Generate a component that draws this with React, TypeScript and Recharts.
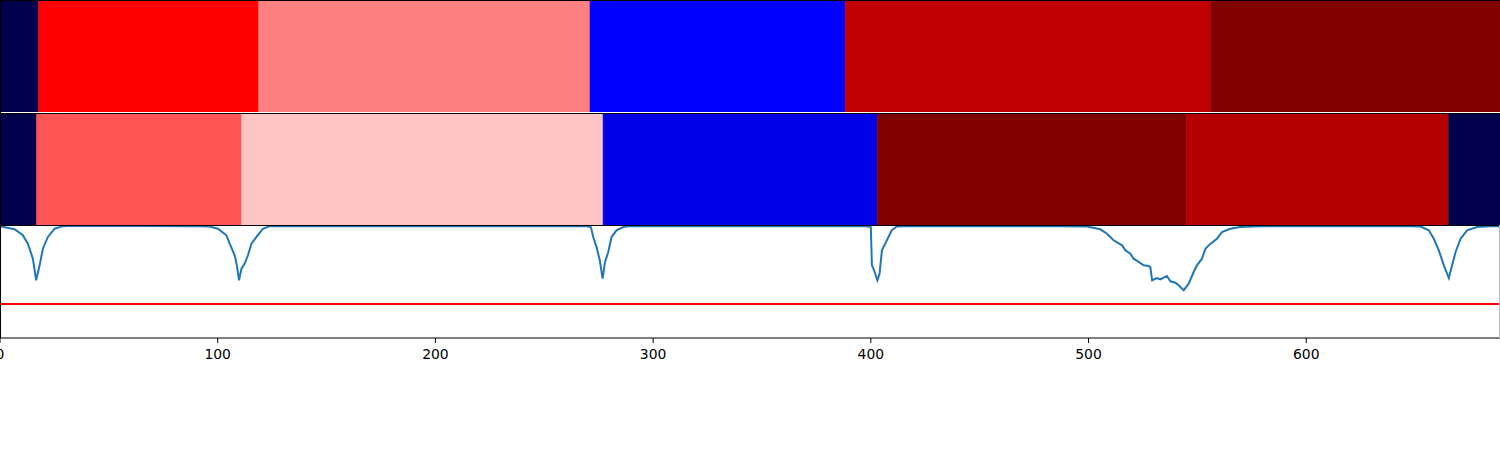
import React from "react";
import { BarChart, Bar, XAxis, YAxis, LineChart, Line, ReferenceLine } from "recharts";

// Segment boundaries (x units) for the two coloured strips
const strip1Bounds = [0, 17.7, 118.8, 271, 388.2, 556, 689];
const strip2Bounds = [0, 16.8, 111, 277, 402.9, 545, 665.4, 689];

// Segment colours (seismic colormap look)
const strip1Colors = ["#00004c", "#ff0000", "#ff8080", "#0000ff", "#c00000", "#800000"];
const strip2Colors = ["#00004c", "#ff5555", "#ffc4c4", "#0000e8", "#800000", "#b60000", "#00004c"];

// Signal trace
const signalX = [
  0, 6.7, 10.5, 12.8, 15.1, 16.6, 18.2, 19.7, 22.0, 25.1, 28.9, 33.3,
  91.7, 96.3, 100.1, 104.0, 105.5, 107.8, 108.8, 109.8, 110.9, 112.4, 113.9, 115.5, 117.8, 120.8, 123.9,
  268.7, 271.4, 272.5, 274.0, 275.5, 276.8, 277.9, 279.4, 280.9, 283.2, 286.3, 289.3,
  397.4, 400.0, 400.5, 401.5, 403.0, 404.0, 405.1, 406.6, 408.1, 409.6, 411.9, 415.0,
  487.0, 499.3, 505.4, 508.5, 511.5, 515.4, 516.9, 519.2, 520.7, 523.0, 525.3, 527.6, 528.4, 529.2,
  531.5, 533.0, 536.0, 537.6, 539.9, 541.4, 543.7, 546.0, 548.3, 549.8, 552.1, 553.7, 556.0, 559.0,
  561.3, 565.1, 569.7, 578.9, 597.3,
  647.9, 652.5, 656.3, 658.6, 660.9, 663.2, 665.5, 667.0, 668.6, 670.9, 673.9, 678.5, 684.6, 689,
];
const signalY = [
  0.99, 0.962, 0.909, 0.835, 0.702, 0.511, 0.643, 0.79, 0.894, 0.967, 0.99, 0.993,
  0.99, 0.987, 0.967, 0.909, 0.835, 0.732, 0.643, 0.511, 0.613, 0.658, 0.732, 0.835, 0.894, 0.967, 0.99,
  0.99, 0.982, 0.894, 0.805, 0.688, 0.525, 0.673, 0.761, 0.894, 0.953, 0.982, 0.99,
  0.99, 0.982, 0.643, 0.599, 0.511, 0.569, 0.776, 0.835, 0.894, 0.953, 0.987, 0.99,
  0.99, 0.987, 0.962, 0.923, 0.865, 0.82, 0.776, 0.746, 0.702, 0.673, 0.643, 0.637, 0.628, 0.511,
  0.531, 0.519, 0.549, 0.502, 0.489, 0.466, 0.422, 0.481, 0.584, 0.643, 0.702, 0.79, 0.835, 0.879,
  0.938, 0.967, 0.982, 0.988, 0.99,
  0.99, 0.987, 0.953, 0.879, 0.776, 0.643, 0.531, 0.643, 0.761, 0.879, 0.953, 0.982, 0.99, 0.99,
];
const threshold = 0.3;
const xTicks = [0, 100, 200, 300, 400, 500, 600];
const X_MAX = 689;

const W = 1500;
const FONT = "DejaVu Sans";

function Strip({ bounds, colors, top, height }: { bounds: number[]; colors: string[]; top: number; height: number }) {
  const row: Record<string, any> = { name: "row" };
  for (let i = 0; i < bounds.length - 1; i++) row[`s${i}`] = bounds[i + 1] - bounds[i];
  return (
    <div style={{ position: "absolute", left: 0, top, width: W, height }}>
      <BarChart
        width={W}
        height={height}
        data={[row]}
        layout="vertical"
        margin={{ top: 0, right: 0, bottom: 0, left: 0 }}
        barCategoryGap={0}
        barGap={0}
      >
        <XAxis type="number" domain={[0, X_MAX]} hide allowDataOverflow />
        <YAxis type="category" dataKey="name" hide width={0} />
        {colors.map((c, i) => (
          <Bar key={i} dataKey={`s${i}`} stackId="a" fill={c} stroke={c} strokeWidth={0.5} isAnimationActive={false} />
        ))}
      </BarChart>
    </div>
  );
}

export default function App() {
  const lineData = signalX.map((x, i) => ({ x, y: signalY[i] }));
  return (
    <div style={{ position: "absolute", left: 0, top: 0, width: W, height: 450, background: "#fff" }}>
      <Strip bounds={strip1Bounds} colors={strip1Colors} top={0} height={112} />
      <Strip bounds={strip2Bounds} colors={strip2Colors} top={113} height={112} />
      <div style={{ position: "absolute", left: 0, top: 225, width: W, height: 143 }}>
        <LineChart width={W} height={143} data={lineData} margin={{ top: 0, right: 0, bottom: 0, left: 0 }}>
          <XAxis
            dataKey="x"
            type="number"
            domain={[0, X_MAX]}
            ticks={xTicks}
            height={30}
            axisLine={{ stroke: "#000", strokeWidth: 1 }}
            tickLine={{ stroke: "#000", strokeWidth: 1 }}
            tickSize={5}
            tickMargin={6}
            tick={{ fill: "#000", fontSize: 13.9, fontFamily: FONT }}
            interval={0}
          />
          <YAxis type="number" domain={[0, 1]} hide width={0} />
          <ReferenceLine y={threshold} stroke="#ff0000" strokeWidth={2} ifOverflow="extendDomain" />
          <Line
            type="linear"
            dataKey="y"
            stroke="#1f77b4"
            strokeWidth={2}
            dot={false}
            isAnimationActive={false}
          />
        </LineChart>
      </div>
      {/* frame lines */}
      <div style={{ position: "absolute", left: 0, top: 0, width: W, height: 1, background: "#000" }} />
      <div style={{ position: "absolute", left: 0, top: 113, width: W, height: 1, background: "#000" }} />
      <div style={{ position: "absolute", left: 0, top: 225, width: W, height: 1, background: "#000" }} />
      <div style={{ position: "absolute", left: 0, top: 0, width: 1, height: 338, background: "#000" }} />
      <div style={{ position: "absolute", left: 1499, top: 225, width: 1, height: 113, background: "#bbb" }} />
    </div>
  );
}
